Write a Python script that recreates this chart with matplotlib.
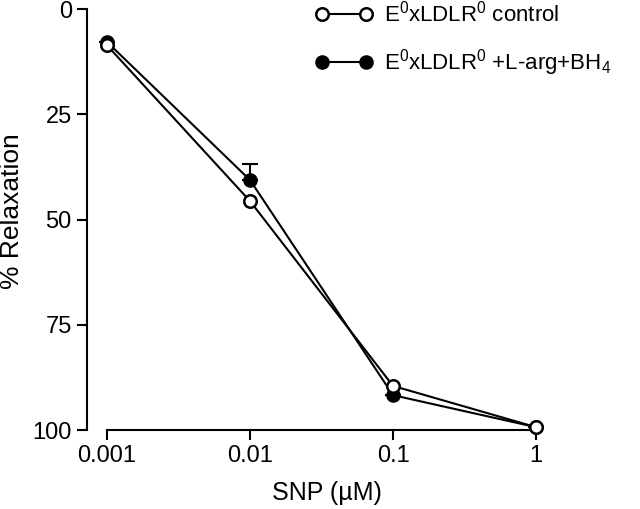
import matplotlib
matplotlib.use("Agg")
import matplotlib.pyplot as plt
from matplotlib.lines import Line2D

plt.rcParams['font.family'] = ['Liberation Sans', 'DejaVu Sans']
plt.rcParams['mathtext.fontset'] = 'custom'
plt.rcParams['mathtext.rm'] = 'Liberation Sans'
plt.rcParams['mathtext.it'] = 'Liberation Sans:italic'
plt.rcParams['mathtext.default'] = 'rm'

snp = [0.001, 0.01, 0.1, 1]
tick_labels = ['0.001', '0.01', '0.1', '1']

control = [8.6, 45.6, 89.5, 99.3]
treated = [7.8, 40.6, 91.7, 99.3]
treated_err = [0, 3.8, 0, 0]

lab_control = r'E$^0$xLDLR$^0$ control'
lab_treated = r'E$^0$xLDLR$^0$ +L-arg+BH$_4$'

fig = plt.figure(figsize=(6.4, 5.09), dpi=100)
ax = fig.add_axes([0.136, 0.155, 0.7015, 0.827])

# filled series first, open circles on top
ax.errorbar(snp, treated, yerr=[treated_err, [0]*4], color='k', lw=1.5,
            marker='o', ms=9, mfc='k', mec='k', mew=1.5,
            capsize=6, capthick=1.5, elinewidth=1.5, clip_on=False, zorder=3)
ax.plot(snp, control, color='k', lw=1.5, marker='o', ms=9, mfc='white',
        mec='k', mew=1.8, clip_on=False, zorder=4)

ax.set_xscale('log')
ax.set_xlim(10**-3.14, 1.0)
ax.set_ylim(100, 0)
ax.set_xticks(snp)
ax.set_xticklabels(tick_labels)
ax.minorticks_off()
ax.set_yticks([0, 25, 50, 75, 100])

ax.spines['top'].set_visible(False)
ax.spines['right'].set_visible(False)
ax.spines['left'].set_linewidth(1.5)
ax.spines['bottom'].set_linewidth(1.5)
ax.spines['bottom'].set_bounds(0.001, 1)
ax.tick_params(width=1.5, length=7, labelsize=17, pad=4)

ax.set_xlabel('SNP (\u00b5M)', fontsize=18)
ax.xaxis.set_label_coords(0.535, -0.12)
ax.set_ylabel('% Relaxation', fontsize=19)
ax.yaxis.set_label_coords(-0.14, 0.52)

handles = [
    Line2D([], [], color='k', lw=1.5, marker='o', ms=9, mfc='white', mec='k', mew=1.8),
    Line2D([], [], color='k', lw=1.5, marker='o', ms=9, mfc='k', mec='k', mew=1.5),
]
ax.legend(handles, [lab_control, lab_treated], loc='upper left',
          bbox_to_anchor=(0.492, 0.998), bbox_transform=fig.transFigure,
          frameon=False, numpoints=2, borderpad=0, borderaxespad=0,
          handlelength=2.58, fontsize=16, labelspacing=0.9, handletextpad=0.55)

fig.savefig('out.png', dpi=100)
